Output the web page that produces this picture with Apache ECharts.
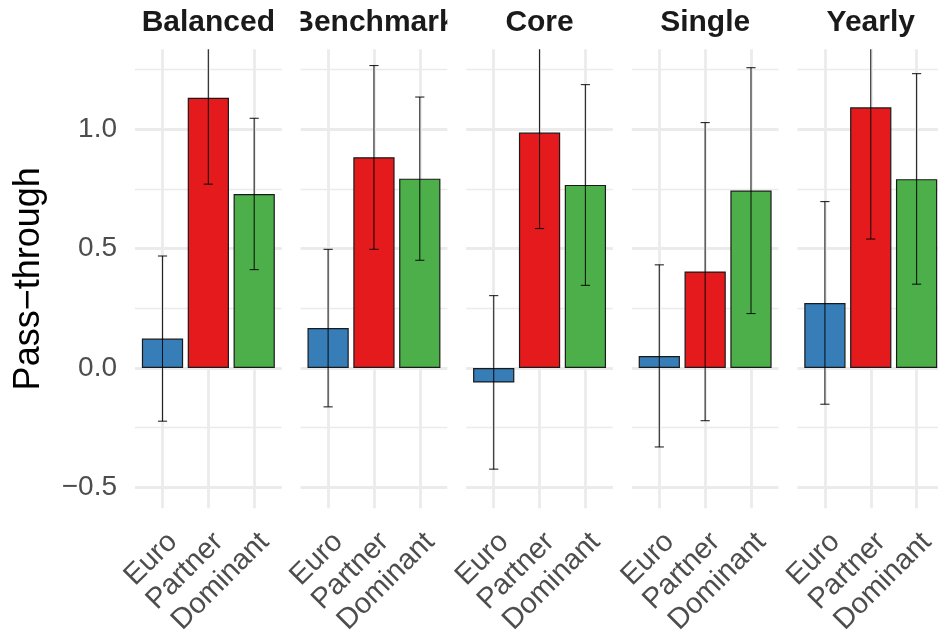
<!DOCTYPE html>
<html>
<head>
<meta charset="utf-8">
<script src="https://cdn.jsdelivr.net/npm/echarts@6/dist/echarts.min.js"></script>
<style>
html,body{margin:0;padding:0;background:#fff;}
#chart{width:938px;height:633px;}
</style>
</head>
<body>
<div id="chart"></div>
<script>
// ---- data ----
const panels = ['Balanced', 'Benchmark', 'Core', 'Single', 'Yearly'];
const categories = ['Euro', 'Partner', 'Dominant'];
const euroEst      = [0.123, 0.167, -0.061, 0.050, 0.272];
const euroLow      = [-0.223, -0.163, -0.424, -0.331, -0.152];
const euroHigh     = [0.469, 0.497, 0.303, 0.432, 0.697];
const partnerEst   = [1.132, 0.883, 0.986, 0.404, 1.092];
const partnerLow   = [0.770, 0.497, 0.584, -0.221, 0.540];
const partnerHigh  = [1.494, 1.267, 1.388, 1.028, 1.644];
const dominantEst  = [0.729, 0.793, 0.767, 0.743, 0.791];
const dominantLow  = [0.412, 0.451, 0.346, 0.228, 0.351];
const dominantHigh = [1.046, 1.135, 1.187, 1.258, 1.233];
const yMajorTicks = [-0.5, 0.0, 0.5, 1.0];
const yMinorTicks = [-0.25, 0.25, 0.75, 1.25];
const yLabel = 'Pass\u2212through';

// ---- style / layout ----
const colors = ['#377EB8', '#E41A1C', '#4DAF4A'];
const estByCat = [euroEst, partnerEst, dominantEst];
const lowByCat = [euroLow, partnerLow, dominantLow];
const highByCat = [euroHigh, partnerHigh, dominantHigh];
const panelLeft0 = 135, panelStep = 165.6, panelW = 146.7, panelTop = 49.3, panelH = 459;
const yMin = -0.588, yMax = 1.335;
const xMin = 0.4, xMax = 3.6;
const unitPx = panelW / (xMax - xMin);
const FONT = '"Liberation Sans", Arial, Helvetica, sans-serif';

const chart = echarts.init(document.getElementById('chart'), null, {renderer: 'canvas'});

const grid = [], xAxis = [], yAxis = [], series = [], graphic = [];

panels.forEach((p, i) => {
  const gl = panelLeft0 + i * panelStep;
  grid.push({left: gl, top: panelTop, width: panelW, height: panelH, containLabel: false, outerBoundsMode: 'none', show: false});
  xAxis.push({
    type: 'value', gridIndex: i, min: xMin, max: xMax,
    axisLine: {show: false}, axisTick: {show: false}, splitLine: {show: false},
    axisLabel: {
      show: true, customValues: [1, 2, 3], rotate: 45, margin: 19,
      align: 'right', verticalAlign: 'top',
      color: '#4D4D4D', fontSize: 29, fontFamily: FONT,
      formatter: v => categories[Math.round(v) - 1] || ''
    }
  });
  yAxis.push({
    type: 'value', gridIndex: i, min: yMin, max: yMax,
    axisLine: {show: false}, axisTick: {show: false}, splitLine: {show: false},
    axisLabel: {
      show: i === 0, customValues: yMajorTicks, margin: 18,
      color: '#4D4D4D', fontSize: 28, fontFamily: FONT,
      formatter: v => v.toFixed(1).replace('-', '\u2212')
    },
    name: i === 0 ? yLabel : '',
    nameLocation: 'middle', nameRotate: 90, nameGap: 88,
    nameTextStyle: {color: '#000', fontSize: 36, fontFamily: FONT}
  });
  // grid lines (background)
  series.push({
    type: 'line', xAxisIndex: i, yAxisIndex: i, data: [], z: 0, silent: true,
    markLine: {
      z: 0, silent: true, animation: false, symbol: ['none', 'none'],
      label: {show: false}, emphasis: {disabled: true},
      lineStyle: {color: '#EBEBEB', type: 'solid', width: 2.8},
      data: [
        ...yMinorTicks.map(v => ({yAxis: v, lineStyle: {width: 1.4, color: '#EBEBEB', type: 'solid'}})),
        ...yMajorTicks.map(v => ({yAxis: v, lineStyle: {width: 2.8, color: '#EBEBEB', type: 'solid'}})),
        ...categories.map((c, k) => ({xAxis: k + 1, lineStyle: {width: 2.8, color: '#EBEBEB', type: 'solid'}}))
      ]
    }
  });
  // bars
  series.push({
    type: 'bar', xAxisIndex: i, yAxisIndex: i, z: 2, barWidth: 0.9 * unitPx,
    itemStyle: {borderColor: '#1a1a1a', borderWidth: 1.2},
    emphasis: {disabled: true},
    data: categories.map((c, k) => ({value: [k + 1, estByCat[k][i]], itemStyle: {color: colors[k]}}))
  });
  // error bars
  series.push({
    type: 'custom', xAxisIndex: i, yAxisIndex: i, z: 6, silent: true,
    data: categories.map((c, k) => [k + 1, lowByCat[k][i], highByCat[k][i]]),
    renderItem: (params, api) => {
      const x = api.value(0);
      const lo = api.coord([x, api.value(1)]);
      const hi = api.coord([x, api.value(2)]);
      const cs = params.coordSys;
      const half = api.size([0.1, 0])[0];
      const yTop = Math.max(cs.y, hi[1]);
      const yBot = Math.min(cs.y + cs.height, lo[1]);
      const st = {stroke: 'rgba(0,0,0,0.85)', lineWidth: 1.1};
      const kids = [{type: 'line', shape: {x1: lo[0], y1: yTop, x2: lo[0], y2: yBot}, style: st}];
      if (hi[1] >= cs.y) kids.push({type: 'line', shape: {x1: hi[0] - half, y1: hi[1], x2: hi[0] + half, y2: hi[1]}, style: st});
      if (lo[1] <= cs.y + cs.height) kids.push({type: 'line', shape: {x1: lo[0] - half, y1: lo[1], x2: lo[0] + half, y2: lo[1]}, style: st});
      return {type: 'group', children: kids};
    }
  });
  // strip title
  graphic.push({
    type: 'text', z: 10, x: gl + panelW / 2, y: 22.5,
    style: {text: p, fill: '#1A1A1A', font: 'bold 30px ' + FONT, textAlign: 'center', textVerticalAlign: 'middle'}
  });
  // clip strip text to its strip: mask the gap to the right of the panel
  if (i < panels.length - 1) {
    graphic.push({
      type: 'rect', z: 11, shape: {x: gl + panelW, y: 0, width: panelStep - panelW, height: 45},
      style: {fill: '#ffffff'}
    });
  }
});

chart.setOption({
  animation: false,
  backgroundColor: '#ffffff',
  grid, xAxis, yAxis, series, graphic
});
</script>
</body>
</html>
